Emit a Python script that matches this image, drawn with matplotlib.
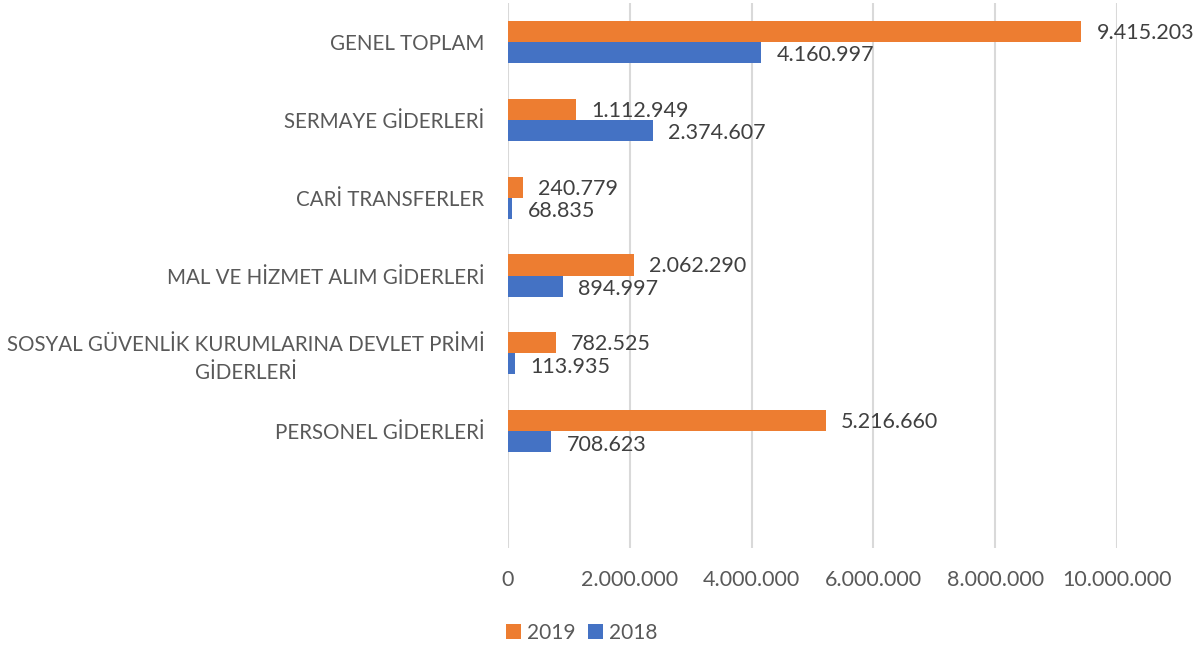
import numpy as np
import matplotlib.pyplot as plt

# data, bottom to top
categories = ['PERSONEL GİDERLERİ',
              'SOSYAL GÜVENLİK KURUMLARINA DEVLET PRİMİ\nGİDERLERİ',
              'MAL VE HİZMET ALIM GİDERLERİ',
              'CARİ TRANSFERLER',
              'SERMAYE GİDERLERİ',
              'GENEL TOPLAM']
v2019 = [5216660, 782525, 2062290, 240779, 1112949, 9415203]
v2018 = [708623, 113935, 894997, 68835, 2374607, 4160997]
xticks = [0, 2000000, 4000000, 6000000, 8000000, 10000000]

c2019 = '#ED7D31'
c2018 = '#4472C4'

plt.rcParams['font.family'] = ['Lato', 'DejaVu Sans']


def fmt(v):
    return f'{v:,}'.replace(',', '.')


fig = plt.figure(figsize=(12.04, 6.5), dpi=100)
ax = fig.add_axes([508/1204, 1 - 548/650, (1117 - 508)/1204, 545/650])

y = np.arange(len(categories))
h = 0.27
ax.barh(y + h/2, v2019, height=h, color=c2019, label='2019', zorder=3)
ax.barh(y - h/2, v2018, height=h, color=c2018, label='2018', zorder=3)

for yi, a, b in zip(y, v2019, v2018):
    ax.annotate(fmt(a), (a, yi + h/2), xytext=(11, -1), textcoords='offset points',
                va='center', ha='left', fontsize=15.5, color='#404040')
    ax.annotate(fmt(b), (b, yi - h/2), xytext=(11, -2), textcoords='offset points',
                va='center', ha='left', fontsize=15.5, color='#404040')

ax.set_xlim(0, 10000000)
ax.set_ylim(-1.5, len(categories) - 0.5)
ax.set_xticks(xticks)
ax.set_xticklabels([fmt(t) for t in xticks], fontsize=15.5, color='#595959')
ax.set_yticks(y)
ax.set_yticklabels(categories, fontsize=14.8, color='#595959', ha='right',
                   multialignment='center', linespacing=1.5)
ax.tick_params(axis='y', length=0, pad=17)
ax.tick_params(axis='x', length=0, pad=16)

ax.grid(axis='x', color='#d9d9d9', lw=1.5, zorder=0)
for s in ax.spines.values():
    s.set_visible(False)

ax.legend(loc='center', bbox_to_anchor=(582/1204, 1 - 633/650), bbox_transform=fig.transFigure,
          ncol=2, frameon=False, fontsize=15, handlelength=0.7, handleheight=0.7,
          handletextpad=0.3, columnspacing=0.6, labelcolor='#595959')

fig.savefig('out.png', dpi=100)
